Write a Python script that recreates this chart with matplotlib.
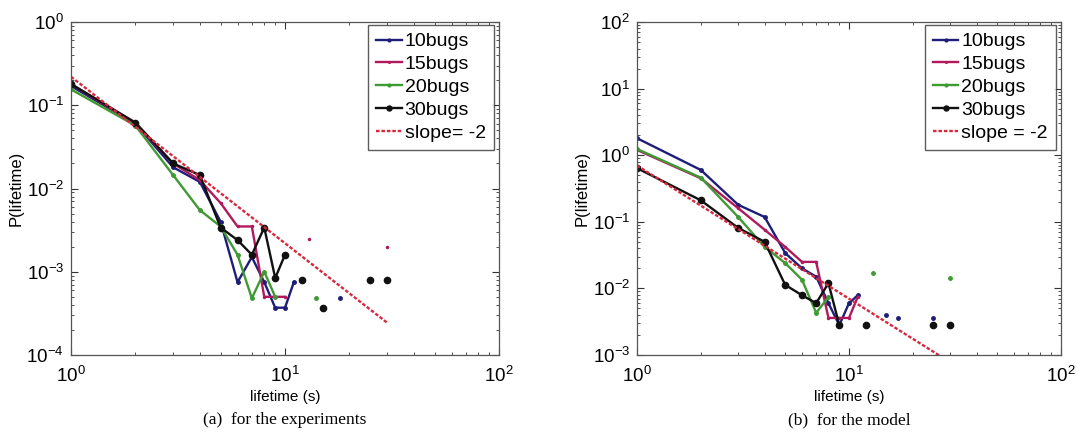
import numpy as np
import matplotlib
matplotlib.use("Agg")
import matplotlib.pyplot as plt
from matplotlib.ticker import LogLocator, NullFormatter

nan = np.nan

# ---- (a) experiments -------------------------------------------------------
exp_x10 = [1, 2, 3, 4, 5, 6, 7, 8, 9, 10, 11, 12, 18]
exp_y10 = [0.17, 0.060, 0.018, 0.012, 0.004, 7.5e-4, 0.0015, 7.5e-4, 3.7e-4, 3.7e-4, 7.5e-4, nan, 4.8e-4]

exp_x15 = [1, 2, 3, 4, 5, 6, 7, 8, 9, 10, 11, 13, 14, 30]
exp_y15 = [0.18, 0.060, 0.020, 0.0126, 0.0067, 0.0035, 0.0035, 5e-4, 5e-4, 5e-4, nan, 0.0025, nan, 0.002]

exp_x20 = [1, 2, 3, 4, 5, 6, 7, 8, 9, 10, 14]
exp_y20 = [0.155, 0.057, 0.0145, 0.0055, 0.0035, 0.0016, 4.8e-4, 0.001, 5e-4, nan, 4.8e-4]

exp_x30 = [1, 2, 3, 4, 5, 6, 7, 8, 9, 10, 11, 12, 13, 15, 16, 25, 26, 30]
exp_y30 = [0.18, 0.062, 0.020, 0.0145, 0.0034, 0.0024, 0.0016, 0.0034, 8.4e-4, 0.0016,
           nan, 8e-4, nan, 3.7e-4, nan, 8e-4, nan, 8e-4]

exp_slope_c = 0.22

# ---- (b) model -------------------------------------------------------------
mod_x10 = [1, 2, 3, 4, 5, 6, 7, 8, 9, 10, 11, 12, 15, 16, 17, 18, 25]
mod_y10 = [1.8, 0.60, 0.18, 0.118, 0.034, 0.020, 0.015, 0.006, 0.0028, 0.006, 0.0079,
           nan, 0.004, nan, 0.0036, nan, 0.0036]

mod_x15 = [1, 2, 3, 4, 5, 6, 7, 8, 9, 10, 11]
mod_y15 = [1.2, 0.45, 0.16, 0.076, 0.042, 0.025, 0.025, 0.0036, 0.0036, 0.0036, 0.0075]

mod_x20 = [1, 2, 3, 4, 5, 6, 7, 8, 9, 13, 14, 30]
mod_y20 = [1.24, 0.46, 0.118, 0.042, 0.024, 0.0135, 0.0043, 0.0074, nan, 0.017, nan, 0.0145]

mod_x30 = [1, 2, 3, 4, 5, 6, 7, 8, 9, 10, 12, 13, 25, 26, 30]
mod_y30 = [0.64, 0.21, 0.081, 0.050, 0.0113, 0.0079, 0.006, 0.012, 0.0028,
           nan, 0.0028, nan, 0.0028, nan, 0.0028]

mod_slope_c = 0.70

slope_x = np.array([1.0, 30.0])
slope_exponent = -2

labels = ["10bugs", "15bugs", "20bugs", "30bugs"]
colors = ["#1e1e78", "#b01a5c", "#3f9a34", "#111111"]
markers = [".", ".", ".", "."]
msizes = [5, 3, 5, 9]

plt.rcParams["font.family"] = ["Liberation Sans", "DejaVu Sans"]
plt.rcParams["mathtext.fontset"] = "custom"
plt.rcParams["mathtext.rm"] = "Liberation Sans"
plt.rcParams["mathtext.it"] = "Liberation Sans:italic"
plt.rcParams["mathtext.bf"] = "Liberation Sans:bold"

fig = plt.figure(figsize=(10.77, 4.45), dpi=100)
W, H = 1077, 445


def add_axes(px_left, px_right, px_top, px_bottom):
    return fig.add_axes([px_left / W, 1 - px_bottom / H,
                         (px_right - px_left) / W, (px_bottom - px_top) / H])


def draw_panel(ax, series, slope_c, slope_label, ylim, caption):
    for (x, y), lab, c, m, ms in zip(series, labels, colors, markers, msizes):
        ax.plot(x, y, color=c, lw=1.7, marker=m, ms=ms, label=lab)
    ax.plot(slope_x, slope_c * slope_x ** slope_exponent, color="#d8283f",
            lw=1.7, ls=(0, (1.5, 0.8)), label=slope_label)
    ax.set_xscale("log")
    ax.set_yscale("log")
    ax.set_xlim(1, 100)
    ax.set_ylim(*ylim)
    ax.xaxis.set_major_locator(LogLocator(base=10, numticks=10))
    ax.yaxis.set_major_locator(LogLocator(base=10, numticks=10))
    ax.xaxis.set_minor_locator(LogLocator(base=10, subs=np.arange(2, 10), numticks=20))
    ax.yaxis.set_minor_locator(LogLocator(base=10, subs=np.arange(2, 10), numticks=20))
    ax.xaxis.set_minor_formatter(NullFormatter())
    ax.yaxis.set_minor_formatter(NullFormatter())
    ax.tick_params(which="both", direction="in", top=True, right=True,
                   labelsize=13.5, colors="#333333", labelcolor="black")
    ax.tick_params(which="major", length=5, width=0.8)
    ax.tick_params(axis="x", which="major", pad=8)
    ax.tick_params(axis="y", which="major", pad=5)
    ax.tick_params(which="minor", length=2.5, width=0.6)
    for s in ax.spines.values():
        s.set_color("#555555")
        s.set_linewidth(0.9)
    ax.set_xlabel("lifetime (s)", fontsize=11,
                  family=["Liberation Sans Narrow", "Liberation Sans"], labelpad=3)
    ax.set_ylabel("P(lifetime)", fontsize=12, labelpad=2)
    leg = ax.legend(loc="upper right", bbox_to_anchor=(0.988, 0.992),
                    borderaxespad=0, fontsize=14, frameon=True, fancybox=False,
                    edgecolor="#333333", handlelength=1.3, handletextpad=0.15,
                    labelspacing=0.27, borderpad=0.42, markerscale=0.8)
    leg.get_frame().set_linewidth(1.0)
    ax.text(0.5, -0.195, caption, transform=ax.transAxes, ha="center", va="center",
            fontsize=12.5, family=["Liberation Serif", "DejaVu Serif"])


ax1 = add_axes(71, 499, 22, 355)
draw_panel(ax1,
           [(exp_x10, exp_y10), (exp_x15, exp_y15), (exp_x20, exp_y20), (exp_x30, exp_y30)],
           exp_slope_c, "slope= -2", (1e-4, 1e0), "(a)  for the experiments")

ax2 = add_axes(637, 1061, 22, 355)
draw_panel(ax2,
           [(mod_x10, mod_y10), (mod_x15, mod_y15), (mod_x20, mod_y20), (mod_x30, mod_y30)],
           mod_slope_c, "slope = -2", (1e-3, 1e2), "(b)  for the model")

fig.savefig("out.png", dpi=100)
